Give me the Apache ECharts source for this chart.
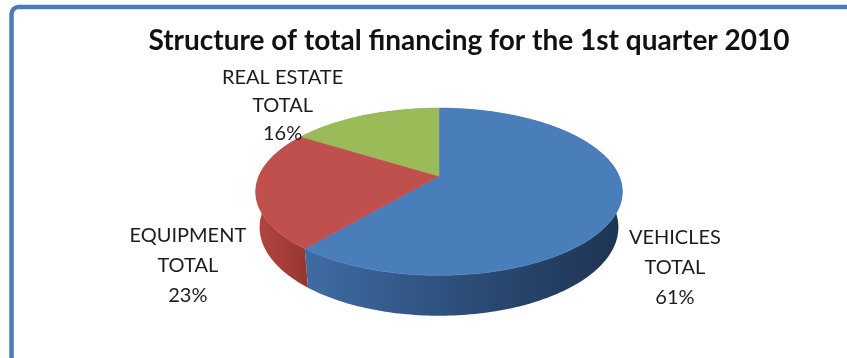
<!DOCTYPE html>
<html>
<head>
<meta charset="utf-8">
<title>Structure of total financing</title>
<script src="https://cdn.jsdelivr.net/npm/echarts@6/dist/echarts.min.js"></script>
<style>
  html, body { margin: 0; padding: 0; background: #ffffff; }
  #chart { width: 847px; height: 358px; }
</style>
</head>
<body>
<div id="chart"></div>
<script>
// Financing structure, Q1 2010 (shares in percent)
const categories = ['VEHICLES TOTAL', 'EQUIPMENT TOTAL', 'REAL ESTATE TOTAL'];
const shares = [61, 23, 16];

// Slice colours: top face and shaded rim (light -> dark)
const topColors = ['#4a7ebb', '#c0504d', '#9bbb59'];
const rimColors = [['#3f6ca4', '#2c4d78', '#1e3352'], ['#b4453f', '#a63e3a', '#953532'], ['#86a34a', '#7a9543', '#6c853a']];

// Camera for the tilted disc: centre on screen, focal length, distance, tilt, thickness
const CX = 439, CY = 176, FOCAL = 855, DIST = 4.75;
const SIN_T = 0.448, COS_T = 0.894, THICK = 0.222;

// Label placement relative to each slice's rim mid-point
const labelOffset = [[55, 62], [-68, 77], [-82, -10]];
const labelLineHeight = [30, 30, 28];

const total = shares.reduce((a, b) => a + b, 0);
const startFrac = shares.map((v, i) => shares.slice(0, i).reduce((a, b) => a + b, 0) / total);

function project(x, y, z) {
  const depth = DIST + y * COS_T - z * SIN_T;
  return [CX + FOCAL * x / depth, CY - FOCAL * (z * COS_T + y * SIN_T) / depth];
}

// angle measured clockwise from 12 o'clock
function rim(theta, z) {
  return project(Math.sin(theta), Math.cos(theta), z);
}

function arc(a0, a1, z) {
  const pts = [];
  const n = Math.max(8, Math.ceil((a1 - a0) / 0.02));
  for (let k = 0; k <= n; k++) pts.push(rim(a0 + (a1 - a0) * k / n, z));
  return pts;
}

function renderSlice(params, api) {
  const i = params.dataIndex;
  const value = api.value(0);
  const a0 = startFrac[i] * Math.PI * 2;
  const a1 = a0 + value / total * Math.PI * 2;

  const topArc = arc(a0, a1, 0);
  const bottomArc = arc(a0, a1, -THICK).reverse();
  const sidePts = topArc.concat(bottomArc);
  const facePts = [project(0, 0, 0)].concat(topArc);

  const mid = (a0 + a1) / 2;
  const anchor = rim(mid, 0);
  const name = categories[i];
  const cut = name.lastIndexOf(' ');
  const pct = Math.round(value / total * 100) + '%';
  const text = name.slice(0, cut) + '\n' + name.slice(cut + 1) + '\n' + pct;

  const rc = rimColors[i];
  return {
    type: 'group',
    children: [
      {
        type: 'polygon',
        z2: 1,
        shape: { points: sidePts },
        style: {
          fill: new echarts.graphic.LinearGradient(0, 0, 1, 0, [
            { offset: 0, color: rc[0] },
            { offset: 0.5, color: rc[1] },
            { offset: 1, color: rc[2] }
          ]),
          stroke: null
        }
      },
      {
        type: 'polygon',
        z2: 10,
        shape: { points: facePts },
        style: { fill: topColors[i], stroke: topColors[i], lineWidth: 0.6 }
      },
      {
        type: 'text',
        z2: 20,
        style: {
          x: anchor[0] + labelOffset[i][0],
          y: anchor[1] + labelOffset[i][1],
          text: text,
          align: 'center',
          verticalAlign: 'middle',
          fontFamily: 'Lato, "Open Sans", sans-serif',
          fontSize: 20,
          lineHeight: labelLineHeight[i],
          fill: '#1c1c1c'
        }
      }
    ]
  };
}

const chart = echarts.init(document.getElementById('chart'), null, { renderer: 'canvas' });
chart.setOption({
  animation: false,
  backgroundColor: '#ffffff',
  graphic: [
    {
      type: 'rect',
      shape: { x: 11.5, y: 7, width: 1000, height: 500, r: 7 },
      style: { fill: '#ffffff', stroke: '#4a7cb9', lineWidth: 4.5 },
      z: -1
    },
    {
      type: 'text',
      x: 469,
      y: 41,
      style: {
        text: 'Structure of total financing for the 1st quarter 2010',
        align: 'center',
        verticalAlign: 'middle',
        fontFamily: 'Lato, "Open Sans", sans-serif',
        fontWeight: 'bold',
        fontSize: 28,
        fill: '#111111'
      }
    }
  ],
  series: [
    {
      type: 'custom',
      coordinateSystem: 'none',
      renderItem: renderSlice,
      data: shares.map((v, i) => ({ name: categories[i], value: [v] }))
    }
  ]
});
</script>
</body>
</html>
